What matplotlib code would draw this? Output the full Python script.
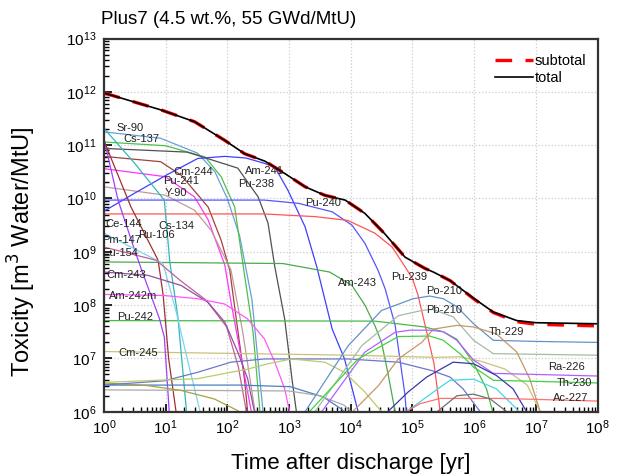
import numpy as np
import matplotlib
matplotlib.use("Agg")
import matplotlib.pyplot as plt
from matplotlib.ticker import LogLocator, LogFormatterMathtext, NullFormatter

plt.rcParams['font.family'] = ['Liberation Sans', 'DejaVu Sans']

# ---------------------------------------------
# Data: (log10 time [yr], log10 toxicity [m3 water/MtU])
# ---------------------------------------------
SR90 = [(0, 11.25), (0.92, 11.13), (1.52, 10.85), (1.8, 10.5), (2.0, 10.0),
        (2.2, 9.3), (2.4, 8.1), (2.58, 6.0)]
CS137 = [(0, 11.06), (1.0, 10.99), (1.64, 10.78), (1.9, 10.41), (2.12, 9.84),
         (2.26, 8.72), (2.42, 7.47), (2.53, 6.0)]
PU238 = [(0, 10.94), (1.35, 10.87), (2.17, 10.57), (2.5, 10.03), (2.66, 9.54),
         (2.77, 8.72), (2.93, 7.74), (3.05, 6.6), (3.12, 6.0)]
CM244 = [(0, 10.79), (0.92, 10.69), (1.25, 10.44), (1.69, 9.84), (1.9, 9.22),
         (2.04, 8.66), (2.15, 7.7), (2.28, 6.6), (2.33, 6.0)]
PU241 = [(0, 10.56), (0.99, 10.41), (1.47, 10.03), (1.69, 9.6), (1.96, 8.75),
         (2.06, 8.06), (2.28, 6.68), (2.39, 6.0)]
Y90 = [(0, 10.22), (1.0, 10.06), (1.47, 9.78), (1.74, 9.4), (2.06, 8.66),
       (2.25, 7.5), (2.45, 6.0)]
AM241 = [(0, 9.76), (0.5, 10.1), (1.0, 10.43), (1.52, 10.75), (1.96, 10.79),
         (2.3, 10.76), (2.6, 10.66), (2.77, 10.59), (2.98, 10.16), (3.26, 9.47),
         (3.45, 8.72), (3.7, 7.55), (3.9, 6.99), (4.12, 6.0)]
PU240 = [(0, 9.97), (2.6, 9.97), (3.15, 9.91), (3.7, 9.75), (4.02, 9.5),
         (4.23, 9.16), (4.44, 8.66), (4.56, 8.3), (4.72, 7.62), (4.88, 6.31),
         (4.9, 6.0)]
PU239 = [(0, 9.71), (2.6, 9.71), (3.42, 9.66), (3.95, 9.59), (4.39, 9.35),
         (4.67, 9.09), (4.88, 8.72), (5.0, 8.5), (5.09, 8.19), (5.2, 7.65),
         (5.35, 6.9), (5.45, 6.0)]
AM243 = [(0, 8.81), (2.9, 8.78), (3.66, 8.62), (4.02, 8.37), (4.23, 8.0),
         (4.39, 7.62), (4.5, 7.3), (4.6, 6.74), (4.72, 6.0)]
PU242 = [(0, 7.71), (4.39, 7.70), (5.2, 7.59), (5.5, 7.5), (5.72, 7.36),
         (5.98, 6.93), (6.2, 6.43), (6.3, 6.0)]
CM245 = [(0, 7.13), (4.02, 7.06), (5.36, 7.02), (5.77, 7.03), (6.1, 6.95),
         (6.5, 6.8), (6.86, 6.5), (7.07, 6.0)]
CE144 = [(0, 11.13), (0.23, 9.97), (0.5, 9.03), (0.6, 8.7), (0.9, 7.75),
         (0.98, 7.4), (1.06, 6.0)]
RU106 = [(0, 11.09), (0.44, 9.84), (0.88, 8.84), (0.96, 8.2), (1.05, 7.0),
         (1.17, 6.0)]
CS134 = [(0, 11.32), (0.5, 10.66), (0.98, 9.97), (1.07, 8.8), (1.2, 7.78),
         (1.34, 6.0)]
PM147 = [(0, 9.35), (0.96, 8.78), (1.18, 7.84), (1.35, 7.0), (1.56, 6.0)]
EU154 = [(0, 9.09), (0.85, 8.84), (1.23, 8.47), (1.66, 8.09), (1.99, 7.59),
         (2.18, 6.84), (2.31, 6.0)]
CM243 = [(0, 8.62), (0.71, 8.56), (1.25, 8.37), (1.69, 8.05), (1.96, 7.68),
         (2.17, 7.12), (2.33, 6.62), (2.44, 6.0)]
AM242M = [(0, 8.2), (0.98, 8.18), (1.52, 8.12), (1.96, 8.02), (2.33, 7.74),
          (2.6, 7.37), (2.77, 6.93), (2.93, 6.43), (3.01, 6.0)]
CM246 = [(0, 6.5), (2.2, 6.5), (3.02, 6.47), (3.55, 6.28), (3.85, 6.05),
         (3.9, 6.0)]
GRAY_FLAT = [(0, 6.41), (3.0, 6.39), (3.5, 6.3), (3.9, 6.12), (4.0, 6.0)]
OLIVE_DROP = [(0, 6.54), (0.71, 6.49), (1.25, 6.4), (1.79, 6.24), (2.12, 6.05),
              (2.2, 6.0)]
SLATE_RISE = [(0, 6.5), (0.98, 6.58), (1.52, 6.74), (2.06, 6.93), (2.6, 6.99),
              (3.95, 6.99), (4.77, 6.93), (5.32, 6.77), (5.61, 6.65),
              (5.82, 6.43), (5.98, 6.18), (6.1, 6.0)]
YGREEN_RISE = [(0, 6.55), (1.52, 6.62), (2.33, 6.8), (2.66, 6.9), (3.04, 6.99),
               (3.58, 6.93), (3.9, 6.74), (4.23, 6.37), (4.5, 6.0)]
PO210 = [(3.26, 6.0), (3.96, 7.24), (4.5, 7.9), (5.01, 8.12), (5.28, 8.17),
         (5.5, 8.12), (5.72, 7.97), (5.99, 7.65), (6.31, 7.34), (6.96, 7.32),
         (8.0, 7.3)]
PB210 = [(3.42, 6.0), (4.18, 7.24), (4.77, 7.8), (5.15, 7.9), (5.33, 7.92),
         (5.66, 7.78), (5.99, 7.34), (6.31, 7.09), (8.0, 7.06)]
TH229 = [(4.03, 6.0), (4.45, 6.49), (4.77, 6.99), (5.15, 7.3), (5.34, 7.55),
         (5.72, 7.62), (5.99, 7.59), (6.36, 7.46), (6.69, 7.12), (6.9, 6.62),
         (7.07, 6.0)]
RA226 = [(3.53, 6.0), (4.23, 7.12), (4.72, 7.49), (4.96, 7.53), (5.28, 7.53),
         (5.5, 7.5), (5.72, 7.34), (5.99, 6.97), (6.31, 6.72), (8.0, 6.67)]
TH230 = [(3.33, 6.0), (4.12, 6.99), (4.77, 7.41), (5.28, 7.42), (5.5, 7.34),
         (5.77, 7.09), (5.99, 6.84), (6.31, 6.59), (8.0, 6.54)]
NP237 = [(4.6, 6.0), (4.93, 6.37), (5.23, 6.65), (5.66, 6.93), (5.99, 6.9),
         (6.36, 6.68), (6.63, 6.43), (6.85, 6.0)]
CYAN_HUMP = [(4.9, 6.0), (5.34, 6.37), (5.61, 6.59), (5.99, 6.61), (6.36, 6.43),
             (6.69, 6.05), (6.72, 6.0)]
AC227 = [(4.9, 6.0), (5.12, 6.15), (5.45, 6.25), (6.42, 6.25), (8.0, 6.2)]
PA231 = [(5.4, 6.0), (5.72, 6.3), (5.99, 6.33), (6.26, 6.24), (6.53, 6.0)]

TOTAL = [(0, 11.98), (0.93, 11.66), (1.47, 11.44), (1.96, 11.09), (2.28, 10.84),
         (2.61, 10.7), (2.93, 10.47), (3.26, 10.22), (3.58, 10.06), (3.91, 9.97),
         (4.23, 9.72), (4.55, 9.34), (4.88, 8.9), (5.2, 8.69), (5.34, 8.62),
         (5.61, 8.46), (5.99, 8.13), (6.31, 7.87), (6.69, 7.71), (7.0, 7.67),
         (8.0, 7.65)]
SUBTOTAL = [(0, 11.98), (0.93, 11.66), (1.47, 11.44), (1.96, 11.09), (2.28, 10.84),
            (2.61, 10.7), (2.93, 10.47), (3.26, 10.22), (3.58, 10.06), (3.91, 9.97),
            (4.23, 9.72), (4.55, 9.34), (4.88, 8.9), (5.2, 8.69), (5.34, 8.62),
            (5.61, 8.46), (5.99, 8.12), (6.31, 7.86), (6.69, 7.69), (7.0, 7.64),
            (8.0, 7.61)]

curves = [
    (SR90, '#6a9fd4'), (CS137, '#4cc04c'), (PU238, '#505050'), (CM244, '#a04040'),
    (PU241, '#ff33ff'), (Y90, '#c09a9a'), (AM241, '#3f3fff'), (PU240, '#5555ff'),
    (PU239, '#ff5555'), (AM243, '#4caa4c'), (PU242, '#44bb44'), (CM245, '#c8c27a'),
    (CE144, '#a040ff'), (RU106, '#a03030'), (CS134, '#30b8b8'), (PM147, '#7fd3ef'),
    (EU154, '#c0609a'), (CM243, '#9050a0'), (AM242M, '#ff55ff'), (CM246, '#4a7fc4'),
    (GRAY_FLAT, '#aaaaaa'), (OLIVE_DROP, '#a8a040'), (SLATE_RISE, '#6a78c8'),
    (YGREEN_RISE, '#b8cc6a'), (PO210, '#6492c8'), (PB210, '#a4bca4'),
    (TH229, '#c49868'), (RA226, '#b060ff'), (TH230, '#44d044'), (NP237, '#3838a8'),
    (CYAN_HUMP, '#44d8e8'), (AC227, '#ff7070'), (PA231, '#707070'),
]

label_names = ['Sr-90', 'Cs-137', 'Cm-244', 'Pu-241', 'Y-90', 'Am-241', 'Pu-238',
               'Pu-240', 'Ce-144', 'Cs-134', 'Pm-147', 'Ru-106', 'Eu-154', 'Cm-243',
               'Am-242m', 'Pu-242', 'Cm-245', 'Am-243', 'Pu-239', 'Po-210',
               'Pb-210', 'Th-229', 'Ra-226', 'Th-230', 'Ac-227']
label_lt = [0.21, 0.31, 1.13, 0.96, 0.98, 2.29, 2.17, 3.26, 0.02, 0.88, -0.03,
            0.56, -0.02, 0.04, 0.09, 0.22, 0.24, 3.79, 4.66, 5.22, 5.22, 6.23,
            7.2, 7.34, 7.28]
label_ly = [11.32, 11.11, 10.49, 10.32, 10.11, 10.51, 10.27, 9.91, 9.53, 9.49,
            9.23, 9.31, 8.98, 8.57, 8.18, 7.77, 7.10, 8.42, 8.52, 8.27, 7.90,
            7.50, 6.84, 6.54, 6.26]


def to_xy(points):
    arr = np.array(points, dtype=float)
    return 10 ** arr[:, 0], 10 ** arr[:, 1]


fig = plt.figure(figsize=(6.18, 4.76), dpi=100)
ax = fig.add_axes([0.168, 0.135, 0.799, 0.784])

for pts, col in curves:
    x, y = to_xy(pts)
    ax.plot(x, y, color=col, lw=0.9)

x, y = to_xy(SUBTOTAL)
ax.plot(x, y, color='#ff0000', lw=2.4, dashes=(5, 4), label='subtotal')
x, y = to_xy(TOTAL)
ax.plot(x, y, color='black', lw=1.2, label='total')

for name, lt, ly in zip(label_names, label_lt, label_ly):
    ax.text(10 ** lt, 10 ** ly, name, fontsize=8, color='#222222',
            ha='left', va='center', clip_on=False)

ax.set_xscale('log')
ax.set_yscale('log')
ax.set_xlim(1, 1e8)
ax.set_ylim(1e6, 1e13)

ax.xaxis.set_major_locator(LogLocator(base=10, numticks=20))
ax.yaxis.set_major_locator(LogLocator(base=10, numticks=20))
ax.xaxis.set_minor_locator(LogLocator(base=10, subs=np.arange(2, 10), numticks=100))
ax.yaxis.set_minor_locator(LogLocator(base=10, subs=np.arange(2, 10), numticks=100))
ax.xaxis.set_major_formatter(LogFormatterMathtext())
ax.yaxis.set_major_formatter(LogFormatterMathtext())
ax.xaxis.set_minor_formatter(NullFormatter())
ax.yaxis.set_minor_formatter(NullFormatter())

ax.tick_params(which='major', direction='in', length=6, width=1.2, labelsize=11,
               top=False, right=False, pad=5)
ax.tick_params(which='minor', direction='in', length=3.5, width=1.0,
               top=False, right=False)

ax.grid(True, which='major', color='#cccccc', linestyle=':', linewidth=0.9)
for side in ['left', 'right', 'top', 'bottom']:
    ax.spines[side].set_linewidth(1.6)
    ax.spines[side].set_color('#333333')

ax.set_xlabel('Time after discharge [yr]', fontsize=16)
ax.xaxis.set_label_coords(0.5, -0.138)
ax.set_ylabel('Toxicity [m$^3$ Water/MtU]', fontsize=17)
ax.yaxis.set_label_coords(-0.166, 0.43)
ax.xaxis.label.set_va('center')
ax.yaxis.label.set_va('center')
fig.text(0.163, 0.958, 'Plus7 (4.5 wt.%, 55 GWd/MtU)', fontsize=13.5,
         ha='left', va='center')

ax.legend(loc='upper right', frameon=False, fontsize=10.5, handlelength=2.6,
          handletextpad=0.15, labelspacing=0.2, borderaxespad=0.3,
          bbox_to_anchor=(0.998, 0.985))

fig.savefig('out.png', dpi=100)
